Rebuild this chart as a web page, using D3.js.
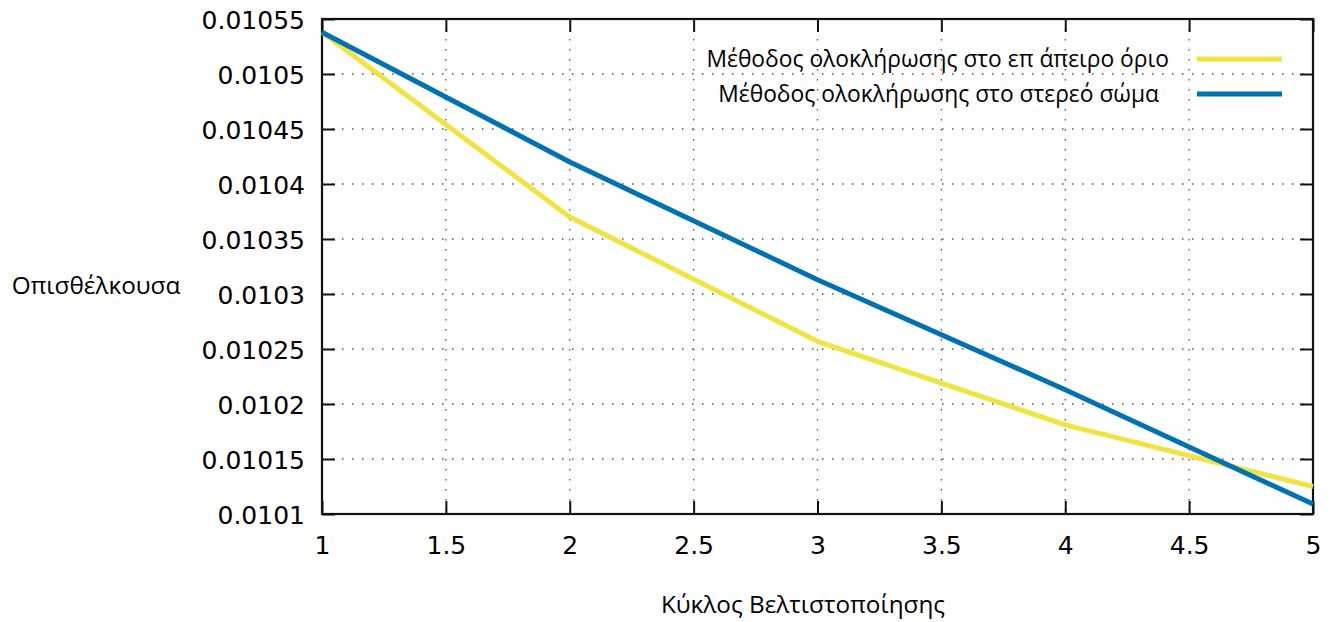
<!DOCTYPE html>
<html><head><meta charset="utf-8">
<script src="https://cdn.jsdelivr.net/npm/d3@7"></script>
<style>body{margin:0;background:#fff}svg{display:block}</style>
</head><body>
<svg id="c" width="1339" height="622"></svg>
<script>
const cycles = [1, 2, 3, 4, 5];
const farField = [0.010538, 0.010370, 0.010257, 0.010181, 0.010125];
const solidBody = [0.010538, 0.010420, 0.010313, 0.010213, 0.010109];
const xTicks = [1, 1.5, 2, 2.5, 3, 3.5, 4, 4.5, 5];
const yTicks = [0.0101, 0.01015, 0.0102, 0.01025, 0.0103, 0.01035, 0.0104, 0.01045, 0.0105, 0.01055];
const yTickLabels = ["0.0101","0.01015","0.0102","0.01025","0.0103","0.01035","0.0104","0.01045","0.0105","0.01055"];
const seriesNames = ["Μέθοδος ολοκλήρωσης στο επ άπειρο όριο", "Μέθοδος ολοκλήρωσης στο στερεό σώμα"];
const seriesColors = ["#f0e442", "#0072b2"];

const L = 322, R = 1313, T = 19, B = 514;
const svg = d3.select("#c");
const x = d3.scaleLinear().domain([1, 5]).range([L, R]);
const y = d3.scaleLinear().domain([0.0101, 0.01055]).range([B, T]);
const tickFont = "'DejaVu Sans', sans-serif";
const labFont = "'Open Sans', sans-serif";

// grid
const g = svg.append("g");
g.selectAll(".gx").data(xTicks.slice(1, -1)).join("line")
  .attr("x1", d => x(d)).attr("x2", d => x(d)).attr("y1", T).attr("y2", B)
  .attr("stroke", "#555").attr("stroke-width", 1.3).attr("stroke-dasharray", "1.5,8.5");
g.selectAll(".gy").data(yTicks.slice(1, -1)).join("line")
  .attr("y1", d => y(d)).attr("y2", d => y(d)).attr("x1", L).attr("x2", R)
  .attr("stroke", "#555").attr("stroke-width", 1.3).attr("stroke-dasharray", "1.5,8.5");

// axes via d3 axis (ticks inward, mirrored)
const fmtY = d => yTickLabels[yTicks.indexOf(d)];
const axB = svg.append("g").attr("transform", `translate(0,${B})`)
  .call(d3.axisBottom(x).tickValues(xTicks).tickSize(-13).tickPadding(22).tickFormat(d3.format("")));
const axT = svg.append("g").attr("transform", `translate(0,${T})`)
  .call(d3.axisTop(x).tickValues(xTicks).tickSize(-13).tickFormat(""));
const axL = svg.append("g").attr("transform", `translate(${L},0)`)
  .call(d3.axisLeft(y).tickValues(yTicks).tickSize(-13).tickPadding(17).tickFormat(fmtY));
const axR = svg.append("g").attr("transform", `translate(${R},0)`)
  .call(d3.axisRight(y).tickValues(yTicks).tickSize(-13).tickFormat(""));
[axB, axT, axL, axR].forEach(a => {
  a.select(".domain").remove();
  a.selectAll(".tick line").attr("stroke", "#111").attr("stroke-width", 2);
  a.selectAll("text").attr("font-family", tickFont).attr("font-size", 25).attr("fill", "#000");
});
axB.selectAll("text").attr("dy", "0.71em");
axL.selectAll("text").attr("dy", "0.36em");

// border
svg.append("rect").attr("x", L).attr("y", T).attr("width", R - L).attr("height", B - T)
  .attr("fill", "none").attr("stroke", "#111").attr("stroke-width", 2.2);

// lines
const line = d3.line().x((d, i) => x(cycles[i])).y(d => y(d));
[farField, solidBody].forEach((s, k) => {
  svg.append("path").datum(s).attr("d", line).attr("fill", "none")
    .attr("stroke", seriesColors[k]).attr("stroke-width", 5).attr("stroke-linejoin", "round");
});

// legend
const legY = [59, 94], legEnd = [1169, 1159];
seriesNames.forEach((n, k) => {
  svg.append("text").attr("x", legEnd[k]).attr("y", legY[k]).attr("dy", "0.36em")
    .attr("text-anchor", "end").attr("font-family", labFont).attr("font-size", 22.8).text(n);
  svg.append("line").attr("x1", 1197).attr("x2", 1282).attr("y1", legY[k]).attr("y2", legY[k])
    .attr("stroke", seriesColors[k]).attr("stroke-width", 5);
});

// axis titles
svg.append("text").attr("x", 96).attr("y", 285).attr("dy", "0.36em").attr("text-anchor", "middle")
  .attr("font-family", labFont).attr("font-size", 24.3).text("Οπισθέλκουσα");
svg.append("text").attr("x", 803).attr("y", 604).attr("dy", "0.36em").attr("text-anchor", "middle")
  .attr("font-family", labFont).attr("font-size", 24.3).text("Κύκλος Βελτιστοποίησης");
</script>
</body></html>
